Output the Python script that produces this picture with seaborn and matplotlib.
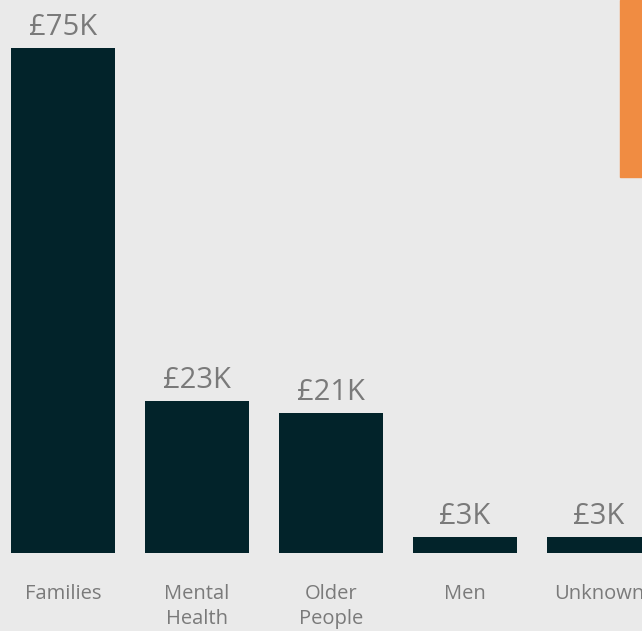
import matplotlib
matplotlib.use('Agg')
import matplotlib.pyplot as plt
import seaborn as sns
import pandas as pd
from matplotlib.patches import Rectangle

# Data
categories = ['Families', 'Mental\nHealth', 'Older\nPeople', 'Men', 'Unknown']
values = [75000, 22600, 20800, 2400, 2400]
value_labels = ['£75K', '£23K', '£21K', '£3K', '£3K']

bg = '#eaeaea'
bar_color = '#02232a'
text_color = '#7a7a7a'

sns.set_theme(style='white')
plt.rcParams['font.family'] = ['Open Sans', 'DejaVu Sans']

fig = plt.figure(figsize=(6.42, 6.31), dpi=100, facecolor=bg)
ax = fig.add_axes([0, 78 / 631, 1, 553 / 631])
ax.set_facecolor(bg)

df = pd.DataFrame({'category': categories, 'value': values})
sns.barplot(data=df, x='category', y='value', color=bar_color, width=0.776,
            saturation=1, linewidth=0, ax=ax)

ax.set_xlim(-0.47, 4.32)
ax.set_ylim(0, 82200)

for i, (v, lab) in enumerate(zip(values, value_labels)):
    ax.text(i, v + 900, lab, ha='center', va='bottom', fontsize=21,
            color=text_color)

ax.set_xlabel('')
ax.set_ylabel('')
ax.set_yticks([])
ax.tick_params(axis='x', length=0, pad=22, labelsize=14.5, labelcolor=text_color)
for lab in ax.get_xticklabels():
    lab.set_linespacing(1.35)
    lab.set_verticalalignment('top')
sns.despine(ax=ax, left=True, bottom=True)

# orange block at the top right edge
fig.patches.append(Rectangle((620 / 642, 1 - 177 / 631), 30 / 642, 177 / 631,
                             transform=fig.transFigure, color='#f08c42',
                             zorder=5))

fig.savefig('out.png', dpi=100, facecolor=bg)
